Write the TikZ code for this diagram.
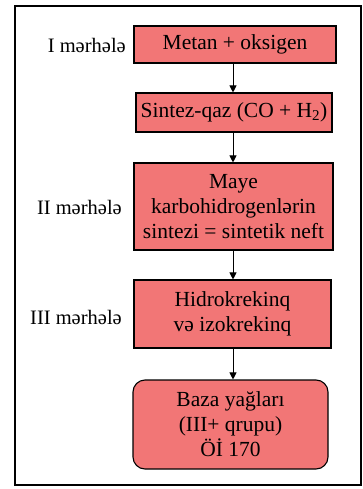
\documentclass[tikz,border=0pt]{standalone}
\usepackage{fontspec}
\setmainfont{Liberation Serif}
\usetikzlibrary{arrows.meta}
\definecolor{boxfill}{RGB}{242,118,118}
\begin{document}
\begin{tikzpicture}[x=1pt,y=-1pt,
  stage/.style={draw=black,line width=1.1pt,fill=boxfill,inner sep=0pt,align=center,
    font=\fontsize{21.5}{25}\selectfont},
  lbl/.style={anchor=east,inner sep=0pt,font=\fontsize{20.5}{24}\selectfont},
  arr/.style={-{Triangle[length=7pt,width=7pt]},line width=0.9pt}]
\useasboundingbox (0,0) rectangle (363,489);
\draw[line width=1.2pt] (15,6) rectangle (361,485);
\node[stage,minimum width=202pt,minimum height=37pt] (b1) at (235,44.5) {Metan + oksigen};
\node[stage,minimum width=196pt,minimum height=39pt] (b2) at (234,112.5) {Sintez-qaz (CO + H\textsubscript{2})};
\node[stage,minimum width=199pt,minimum height=87pt] (b3) at (233.5,206.5) {Maye\\karbohidrogenlərin\\sintezi = sintetik neft};
\node[stage,minimum width=197pt,minimum height=68pt] (b4) at (232.5,314) {Hidrokrekinq\\və izokrekinq};
\node[stage,rounded corners=12pt,minimum width=195pt,minimum height=89pt] (b5) at (230.5,424.5) {Baza yağları\\(III+ qrupu)\\Öİ 170};
\node[lbl] (l1) at (126,45) {I mərhələ};
\node[lbl] (l2) at (122,207) {II mərhələ};
\node[lbl] (l3) at (122,317) {III mərhələ};
\draw[arr] (b1.south -| 233,0) -- (b2.north -| 233,0);
\draw[arr] (b2.south -| 233,0) -- (b3.north -| 233,0);
\draw[arr] (b3.south -| 233,0) -- (b4.north -| 233,0);
\draw[arr] (b4.south -| 233,0) -- (b5.north -| 233,0);
\end{tikzpicture}
\end{document}
